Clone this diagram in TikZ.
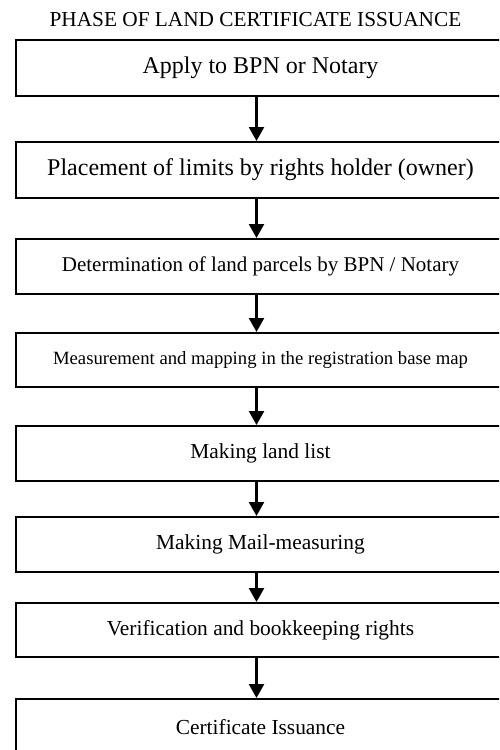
\documentclass[tikz,border=0pt]{standalone}
\usepackage{fontspec}
\setmainfont{Liberation Serif}
\usetikzlibrary{arrows.meta}

\tikzset{
  stage/.style={draw, line width=2pt, minimum width=489pt, minimum height=55pt, inner sep=0pt},
  flow/.style={-{Triangle[width=15pt,length=14pt]}, line width=2.4pt},
}

\begin{document}
\begin{tikzpicture}[x=1pt,y=-1pt]
  \useasboundingbox (0,0) rectangle (499,750);
  \clip (0,0) rectangle (499,750);
  \node[anchor=base,font=\fontsize{21.3}{24}\selectfont] (title) at (255.5,26) {PHASE OF LAND CERTIFICATE ISSUANCE};
  \node[stage,minimum height=56pt,font=\fontsize{24}{28}\selectfont] (s1) at (260.5,68) {Apply to BPN or Notary};
  \node[stage,minimum height=56pt,font=\fontsize{24}{28}\selectfont] (s2) at (260.5,170) {Placement of limits by rights holder (owner)};
  \node[stage,font=\fontsize{21}{24}\selectfont] (s3) at (260.5,266.5) {Determination of land parcels by BPN / Notary};
  \node[stage,minimum height=54pt,font=\fontsize{18.7}{22}\selectfont] (s4) at (260.5,360) {Measurement and mapping in the registration base map};
  \node[stage,font=\fontsize{21.4}{24}\selectfont] (s5) at (260.5,453.5) {Making land list};
  \node[stage,font=\fontsize{21.4}{24}\selectfont] (s6) at (260.5,544.5) {Making Mail-measuring};
  \node[stage,minimum height=54pt,font=\fontsize{21.4}{24}\selectfont] (s7) at (260.5,630) {Verification and bookkeeping rights};
  \node[stage,minimum height=56pt,font=\fontsize{21.4}{24}\selectfont] (s8) at (260.5,727) {Certificate Issuance};
  % steps
  \foreach \a/\b in {s1/s2,s2/s3,s3/s4,s4/s5,s5/s6,s6/s7,s7/s8}
    \draw[flow] ([xshift=-4pt]\a.south) -- ([xshift=-4pt]\b.north);
\end{tikzpicture}
\end{document}
